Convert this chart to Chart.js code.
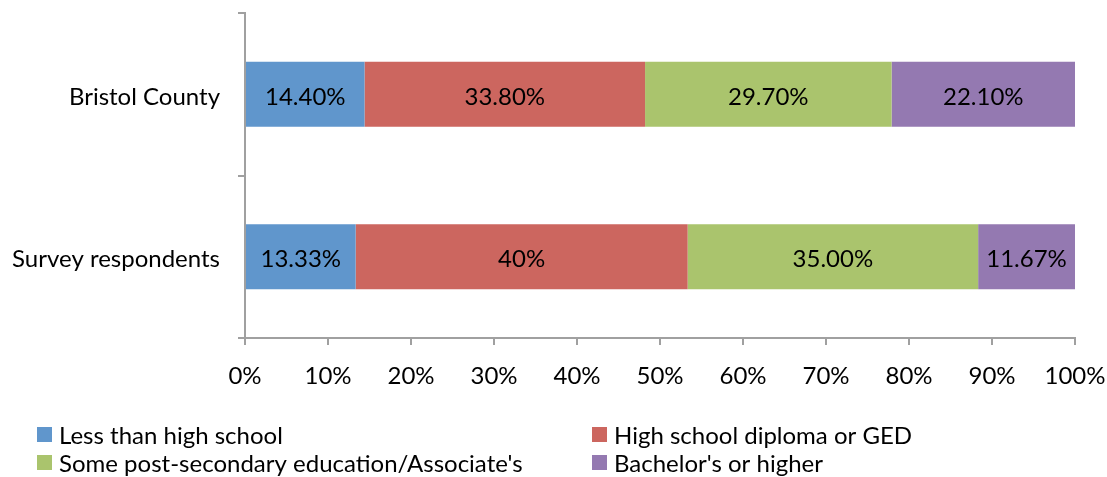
<!DOCTYPE html>
<html>
<head>
<meta charset="utf-8">
<script src="https://cdn.jsdelivr.net/npm/chart.js@4.4.1/dist/chart.umd.min.js"></script>
<style>
  body { margin: 0; background: #fff; }
  #wrap { position: relative; width: 1107px; height: 477px; }
</style>
</head>
<body>
<div id="wrap"><canvas id="eduChart" width="1107" height="477"></canvas></div>
<script>
// education attainment, percent of each group
const groups = ['Bristol County', 'Survey respondents'];
const lessThanHS = [14.40, 13.33];
const hsDiploma = [33.80, 40];
const someCollege = [29.70, 35.00];
const bachelors = [22.10, 11.67];
// text shown inside each segment
const lessThanHSText = ['14.40%', '13.33%'];
const hsDiplomaText = ['33.80%', '40%'];
const someCollegeText = ['29.70%', '35.00%'];
const bachelorsText = ['22.10%', '11.67%'];
const xTicks = [0, 10, 20, 30, 40, 50, 60, 70, 80, 90, 100];

const FONT = 'Lato, "Open Sans", sans-serif';
const FONT_SIZE = 24;
const AXIS_GRAY = '#a0a0a0';

const datasets = [
  { label: 'Less than high school', data: lessThanHS, texts: lessThanHSText, backgroundColor: '#6096cc' },
  { label: 'High school diploma or GED', data: hsDiploma, texts: hsDiplomaText, backgroundColor: '#cc665f' },
  { label: "Some post-secondary education/Associate's", data: someCollege, texts: someCollegeText, backgroundColor: '#aac46d' },
  { label: "Bachelor's or higher", data: bachelors, texts: bachelorsText, backgroundColor: '#9479b1' }
];

// writes the percent in the middle of every segment
const segmentLabels = {
  id: 'segmentLabels',
  afterDatasetsDraw(chart) {
    const ctx = chart.ctx;
    ctx.save();
    ctx.font = FONT_SIZE + 'px ' + FONT;
    ctx.fillStyle = '#000';
    ctx.textAlign = 'center';
    ctx.textBaseline = 'middle';
    chart.data.datasets.forEach(function(ds, i) {
      chart.getDatasetMeta(i).data.forEach(function(bar, j) {
        const cx = (bar.x + bar.base) / 2;
        ctx.fillText(ds.texts[j], cx, bar.y + 3);
      });
    });
    ctx.restore();
  }
};

// two column legend under the axis
const bottomLegend = {
  id: 'bottomLegend',
  afterDraw(chart) {
    const ctx = chart.ctx;
    const cols = [37, 592];
    const rows = [435, 463];
    ctx.save();
    ctx.font = FONT_SIZE + 'px ' + FONT;
    ctx.textBaseline = 'middle';
    ctx.textAlign = 'left';
    chart.data.datasets.forEach(function(ds, i) {
      const x = cols[i % 2];
      const y = rows[Math.floor(i / 2)];
      ctx.fillStyle = ds.backgroundColor;
      ctx.fillRect(x, y - 8, 15, 15);
      ctx.fillStyle = '#000';
      ctx.fillText(ds.label, x + 22, y + 1);
    });
    ctx.restore();
  }
};

const ctx = document.getElementById('eduChart').getContext('2d');
const eduChart = new Chart(ctx, {
  type: 'bar',
  data: { labels: groups, datasets: datasets },
  options: {
    indexAxis: 'y',
    responsive: false,
    animation: false,
    categoryPercentage: 0.4,
    barPercentage: 1,
    layout: { padding: { top: 13, right: 32, bottom: 79, left: 0 } },
    plugins: { legend: { display: false }, tooltip: { enabled: false } },
    scales: {
      x: {
        stacked: true,
        min: 0,
        max: 100,
        afterBuildTicks: function(scale) { scale.ticks = xTicks.map(v => ({ value: v })); },
        afterFit: function(scale) {
          scale.height = 60;
          scale.paddingLeft = 0;
          scale.paddingRight = 0;
        },
        ticks: {
          callback: v => v + '%',
          color: '#000',
          padding: 17,
          font: { size: FONT_SIZE, family: FONT }
        },
        grid: { drawOnChartArea: false, tickLength: 7, color: AXIS_GRAY, lineWidth: 2 },
        border: { color: AXIS_GRAY, width: 2 }
      },
      y: {
        stacked: true,
        afterFit: function(scale) {
          scale.width = 245;
          scale.paddingTop = 0;
          scale.paddingBottom = 0;
        },
        ticks: {
          color: '#000',
          padding: 18,
          labelOffset: 3,
          font: { size: FONT_SIZE, family: FONT }
        },
        grid: { offset: true, drawOnChartArea: false, tickLength: 7, color: AXIS_GRAY, lineWidth: 2 },
        border: { color: AXIS_GRAY, width: 2 }
      }
    }
  },
  plugins: [segmentLabels, bottomLegend]
});
</script>
</body>
</html>
